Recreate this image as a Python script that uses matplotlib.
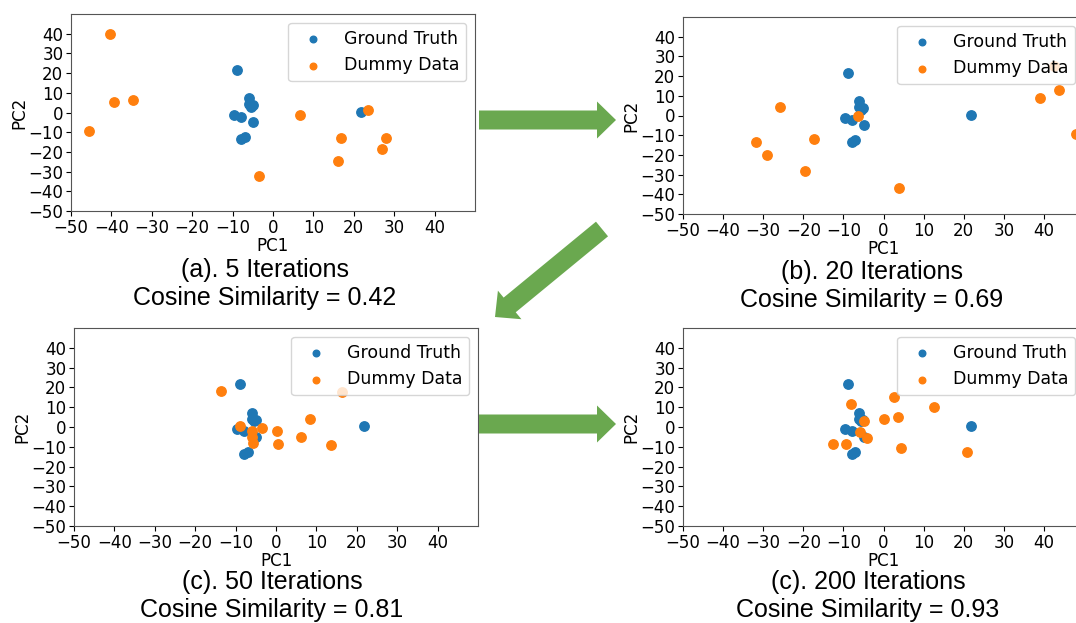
import numpy as np
import matplotlib
matplotlib.use('Agg')
import matplotlib.pyplot as plt
from matplotlib.patches import FancyArrow

# ground truth PCA coordinates (same in every panel)
truth_x = [-8.8, -6.0, -6.0, -5.0, -5.5, -9.6, -7.9, -4.9, -7.8, -7.0, 21.7, -5.6]
truth_y = [21.5, 7.3, 4.2, 3.6, 3.0, -1.2, -2.2, -4.9, -13.4, -12.5, 0.5, 3.8]

# dummy data after 5 iterations
dummy5_x = [-40.3, -39.3, -34.6, -45.6, 6.6, -3.5, 23.5, 16.9, 27.9, 26.9, 16.1]
dummy5_y = [40.0, 5.4, 6.4, -9.3, -1.2, -32.2, 1.2, -12.7, -13.1, -18.6, -24.4]

# dummy data after 20 iterations
dummy20_x = [-25.8, -31.8, -29.1, -17.4, -19.5, -6.4, 3.9, 39.1, 43.7, 47.9, 42.5]
dummy20_y = [4.4, -13.2, -19.8, -12.0, -28.3, -0.5, -36.8, 9.0, 13.1, -9.3, 25.0]

# dummy data after 50 iterations
dummy50_x = [-13.6, 16.4, -8.9, -6.0, -6.0, -5.6, -3.4, 0.2, 0.4, 6.2, 8.4, 13.6]
dummy50_y = [18.0, 17.6, 0.5, -2.0, -4.9, -8.2, -0.3, -1.8, -8.4, -5.1, 3.9, -9.2]

# dummy data after 200 iterations
dummy200_x = [-8.1, 2.7, 12.5, -4.9, 0.0, 3.7, -5.9, -4.0, -12.5, -9.4, 4.4, 20.8]
dummy200_y = [11.5, 15.3, 9.9, 3.0, 4.0, 5.2, -2.6, -5.6, -8.8, -8.5, -10.7, -12.5]

captions = [('(a). 5 Iterations', 'Cosine Similarity = 0.42'),
            ('(b). 20 Iterations', 'Cosine Similarity = 0.69'),
            ('(c). 50 Iterations', 'Cosine Similarity = 0.81'),
            ('(c). 200 Iterations', 'Cosine Similarity = 0.93')]

W, H = 1076, 623
fig = plt.figure(figsize=(W / 100, H / 100), dpi=100)


def px_rect(left, top, right, bottom):
    return [left / W, 1 - bottom / H, (right - left) / W, (bottom - top) / H]


panels = [
    (px_rect(71, 14, 475, 211), dummy5_x, dummy5_y, (265, 270)),
    (px_rect(683, 17, 1084, 214), dummy20_x, dummy20_y, (872, 272)),
    (px_rect(74, 328, 478, 526), dummy50_x, dummy50_y, (272, 582)),
    (px_rect(683, 328, 1084, 526), dummy200_x, dummy200_y, (868, 582)),
]

for (rect, dx, dy, cap_pos), cap in zip(panels, captions):
    ax = fig.add_axes(rect)
    ax.scatter(truth_x, truth_y, color='#1f77b4', s=46, label='Ground Truth', zorder=2)
    ax.scatter(dx, dy, color='#ff7f0e', s=46, label='Dummy Data', zorder=2)
    ax.set_xlim(-50, 50)
    ax.set_ylim(-50, 50)
    ax.set_xticks(np.arange(-50, 50, 10))
    ax.set_yticks(np.arange(-50, 50, 10))
    ax.tick_params(labelsize=12, pad=2)
    ax.set_xlabel('PC1', fontsize=12, labelpad=0)
    ax.set_ylabel('PC2', fontsize=12, labelpad=0)
    for sp in ax.spines.values():
        sp.set_color('#555555')
    ax.legend(loc='upper right', fontsize=12.5, markerscale=0.7)

    cx, cy = cap_pos
    fig.text(cx / W, 1 - cy / H, cap[0], ha='center', va='center',
             fontsize=18, family='Liberation Sans')
    fig.text(cx / W, 1 - (cy + 28) / H, cap[1], ha='center', va='center',
             fontsize=18, family='Liberation Sans')

# overlay in pixel coordinates for the arrows
over = fig.add_axes([0, 0, 1, 1])
over.set_xlim(0, W)
over.set_ylim(H, 0)
over.axis('off')
over.patch.set_alpha(0)

green = '#6aa84f'
arrows = [((479, 120), (616, 120)),
          ((602, 229), (495, 317)),
          ((479, 424), (616, 424))]
for (x0, y0), (x1, y1) in arrows:
    over.add_patch(FancyArrow(x0, y0, x1 - x0, y1 - y0, width=19,
                              head_width=37, head_length=19,
                              length_includes_head=True,
                              color=green, lw=0))

fig.savefig('out.png', dpi=100)
